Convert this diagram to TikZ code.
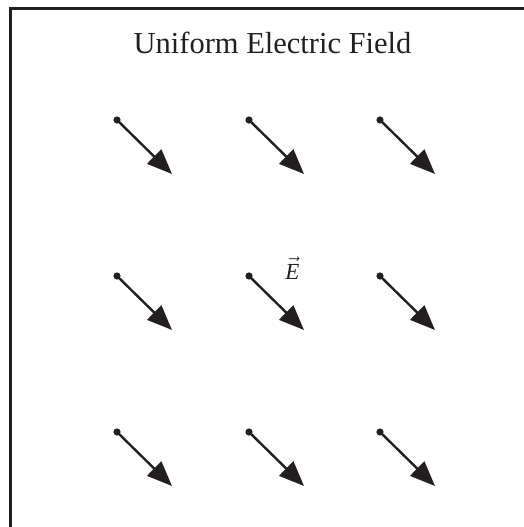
\documentclass[tikz,border=0pt]{standalone}
\usepackage{fontspec}
\setmainfont{Liberation Serif}
\usetikzlibrary{arrows.meta}
\definecolor{ink}{RGB}{35,31,32}
\tikzset{
  fieldvec/.style={line width=2.4pt,draw=ink,
    {Circle[length=7pt,width=7pt]}-{Triangle[length=25pt,width=20pt]},shorten <=-3.5pt},
  titletext/.style={font=\fontsize{30.5}{36}\selectfont,anchor=base,inner sep=0pt,text=ink},
  vlabel/.style={font=\fontsize{23}{27}\selectfont,inner sep=0pt,text=ink}
}
\begin{document}
\begin{tikzpicture}[x=1pt,y=-1pt]
  \useasboundingbox (0,0) rectangle (524,527);
  \def\dx{55}
  \def\dy{54}
  \clip (0,0) rectangle (524,527);
  \draw[line width=2.4pt,ink] (10.5,8.7) rectangle (560,560);
  \node[titletext] (title) at (272.5,54) {Uniform Electric Field};
  \foreach \c/\x in {1/117,2/249,3/380} {
    \foreach \r/\y in {1/120,2/276,3/432} {
      \coordinate (s\c\r) at (\x,\y);
      \coordinate (t\c\r) at (\x+\dx,\y+\dy);
      \draw[fieldvec] (s\c\r) -- (t\c\r);
    }
  }
  \node[vlabel] (E) at (292.5,268) {$\vec{\mbox{\itshape E}}$};
\end{tikzpicture}
\end{document}
